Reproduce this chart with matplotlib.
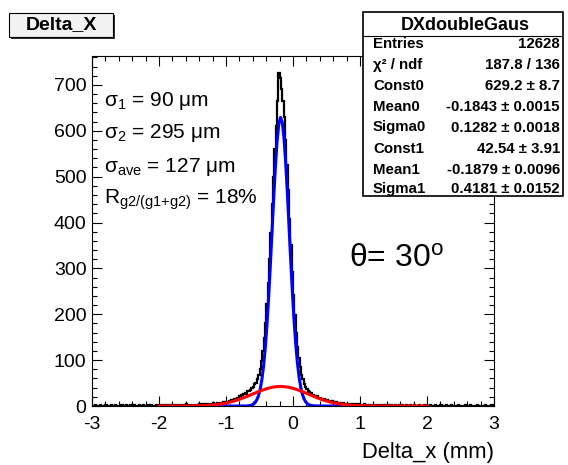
import numpy as np
import matplotlib
matplotlib.use('Agg')
import matplotlib.pyplot as plt
from matplotlib.patches import Rectangle
from matplotlib.ticker import MultipleLocator

plt.rcParams['font.family'] = ['Liberation Sans', 'DejaVu Sans']
plt.rcParams['mathtext.fontset'] = 'custom'
plt.rcParams['mathtext.rm'] = 'Liberation Sans'
plt.rcParams['mathtext.it'] = 'Liberation Sans:italic'
plt.rcParams['mathtext.bf'] = 'Liberation Sans:bold'
plt.rcParams['axes.unicode_minus'] = False

# ---------------- data ----------------
x_min, x_max = -3.0, 3.0
y_max = 763
counts = [
    # -3.00 .. -2.00
    1, 0, 2, 1, 1, 0, 2, 1, 0, 1, 2, 1, 1, 0, 3, 1, 0, 2, 1, 1,
    0, 1, 2, 1, 0, 2, 1, 1, 3, 0, 1, 2, 0, 1, 1, 2, 0, 1, 2, 1,
    1, 0, 2, 1, 3, 1, 0, 1, 2, 1,
    # -2.00 .. -1.50
    1, 2, 1, 0, 2, 1, 3, 1, 2, 2, 1, 3, 2, 1, 2, 3, 2, 1, 3, 2,
    4, 2, 3, 2, 3,
    # -1.50 .. -1.00
    2, 3, 1, 3, 2, 4, 3, 2, 4, 3, 5, 3, 4, 5, 4, 6, 5, 4, 6, 7,
    5, 7, 6, 8, 7,
    # -1.00 .. -0.20
    9, 8, 11, 10, 12, 13, 15, 14, 18, 17,
    21, 24, 23, 27, 28, 27, 32, 33, 35, 39,
    42, 47, 51, 59, 67, 80, 98, 120, 148, 182,
    222, 268, 320, 378, 440, 500, 560, 610, 665, 727,
    # -0.20 .. 0.62
    715, 690, 665, 630, 580, 525, 470, 408, 350, 292, 242,
    198, 160, 128, 104, 84, 68, 58, 49, 42, 37,
    33, 30, 28, 25, 24, 22, 20, 21, 18, 17,
    16, 14, 15, 12, 13, 11, 10, 9, 10, 8,
    # 0.62 .. 1.02
    7, 8, 6, 7, 5, 6, 6, 4, 5, 5, 4, 3, 5, 3, 4, 2, 3, 4, 2, 3,
    # 1.02 .. 2.00
    3, 2, 4, 2, 3, 1, 3, 2, 2, 1, 3, 2, 1, 2, 3, 1, 2, 1, 2, 0,
    2, 1, 3, 1, 1, 2, 0, 1, 2, 1, 2, 1, 0, 2, 1, 1, 2, 0, 1, 2,
    1, 1, 0, 2, 1, 1, 0, 2, 1,
    # 2.00 .. 3.00
    1, 0, 2, 1, 0, 1, 2, 1, 1, 0, 2, 1, 0, 1, 3, 1, 0, 1, 2, 0,
    1, 1, 0, 2, 1, 0, 1, 1, 2, 1, 0, 1, 2, 0, 1, 1, 0, 2, 1, 1,
    0, 1, 1, 2, 0, 1, 0, 1, 2, 1,
]

# fitted gaussian components (from the stats box)
fit_const = [629.2, 42.54]
fit_mean = [-0.1843, -0.1879]
fit_sigma = [0.1282, 0.4181]
fit_ranges = [(-1.5, 1.0), (-2.0, 2.0)]
fit_colors = ['#0000ff', '#ff0000']

stats_title = 'DXdoubleGaus'
stats_labels = ['Entries', 'χ² / ndf', 'Const0', 'Mean0', 'Sigma0',
                'Const1', 'Mean1', 'Sigma1']
stats_values = ['12628', '187.8 / 136', '629.2 ± 8.7', '-0.1843 ± 0.0015',
                '0.1282 ± 0.0018', '42.54 ± 3.91', '-0.1879 ± 0.0096',
                '0.4181 ± 0.0152']

annot_lines = [r'σ$_{\mathrm{1}}$ = 90 μm',
               r'σ$_{\mathrm{2}}$ = 295 μm',
               r'σ$_{\mathrm{ave}}$ = 127 μm',
               r'R$_{\mathrm{g2/(g1{+}g2)}}$ = 18%']
angle_text = r'θ= 30$^{\mathrm{o}}$'
hist_title = 'Delta_X'
x_title = 'Delta_x (mm)'

# ---------------- figure ----------------
W, H = 568, 465
fig = plt.figure(figsize=(W / 100, H / 100), dpi=100)
fig.patch.set_facecolor('white')

def fx(px):
    return px / W

def fy(py):
    return 1 - py / H

L, R, T, B = 92, 494, 56, 406
ax = fig.add_axes([fx(L), fy(B), (R - L) / W, (B - T) / H])

edges = np.linspace(x_min, x_max, len(counts) + 1)
ax.stairs(counts, edges, color='black', lw=1.6, zorder=2)

for c, m, s, (a, b), col in zip(fit_const, fit_mean, fit_sigma, fit_ranges, fit_colors):
    xs = np.linspace(a, b, 100)
    ax.plot(xs, c * np.exp(-0.5 * ((xs - m) / s) ** 2), color=col, lw=2.2, zorder=3)

ax.set_xlim(x_min, x_max)
ax.set_ylim(0, y_max)
ax.xaxis.set_major_locator(MultipleLocator(1))
ax.xaxis.set_minor_locator(MultipleLocator(0.2))
ax.yaxis.set_major_locator(MultipleLocator(100))
ax.yaxis.set_minor_locator(MultipleLocator(20))
ax.tick_params(which='both', direction='in', top=True, right=True, width=0.8,
               labelsize=14)
ax.tick_params(which='major', length=7)
ax.tick_params(which='minor', length=3.6)
ax.tick_params(axis='x', which='major', pad=7)
ax.tick_params(axis='y', which='major', pad=4)
for sp in ax.spines.values():
    sp.set_linewidth(0.8)

# annotations
ys = [106.5, 138.5, 171.5, 204]
for t, yy in zip(annot_lines, ys):
    fig.text(fx(104), fy(yy), t, fontsize=15, ha='left', va='baseline')
fig.text(fx(349), fy(267), angle_text, fontsize=23, ha='left', va='baseline')
fig.text(fx(494), fy(458), x_title, fontsize=15.8, ha='right', va='baseline')

# title box with shadow
fig.add_artist(Rectangle((fx(11), fy(39)), fx(104), 24 / H, transform=fig.transFigure,
                         facecolor='#333333', edgecolor='none', zorder=5))
fig.add_artist(Rectangle((fx(9), fy(37)), fx(104), 24 / H, transform=fig.transFigure,
                         facecolor='#f2f2f2', edgecolor='black', lw=0.8, zorder=6))
fig.text(fx(61), fy(25), hist_title, fontsize=14, fontweight='bold',
         ha='center', va='center', zorder=7)

# stats box
sx0, sy0, sx1, sy1 = 363, 12, 563, 196
sax = fig.add_axes([fx(sx0), fy(sy1), (sx1 - sx0) / W, (sy1 - sy0) / H])
sax.set_xlim(sx0, sx1)
sax.set_ylim(sy1, sy0)
sax.axis('off')
sax.add_patch(Rectangle((sx0, sy0), sx1 - sx0, sy1 - sy0, facecolor='white',
                        edgecolor='black', lw=1.2, clip_on=False))
sax.plot([sx0, sx1], [36, 36], color='black', lw=0.8)
sax.text(465, 29.5, stats_title, fontsize=13, fontweight='bold',
         ha='center', va='baseline')
row_y = [47.5, 68.5, 90, 111, 131.5, 153, 174, 193]
for lab, val, yy in zip(stats_labels, stats_values, row_y):
    sax.text(373, yy, lab, fontsize=10.8, fontweight='bold',
             ha='left', va='baseline')
    sax.text(560, yy, val, fontsize=10.8, fontweight='bold',
             ha='right', va='baseline')

fig.savefig('out.png', dpi=100)
